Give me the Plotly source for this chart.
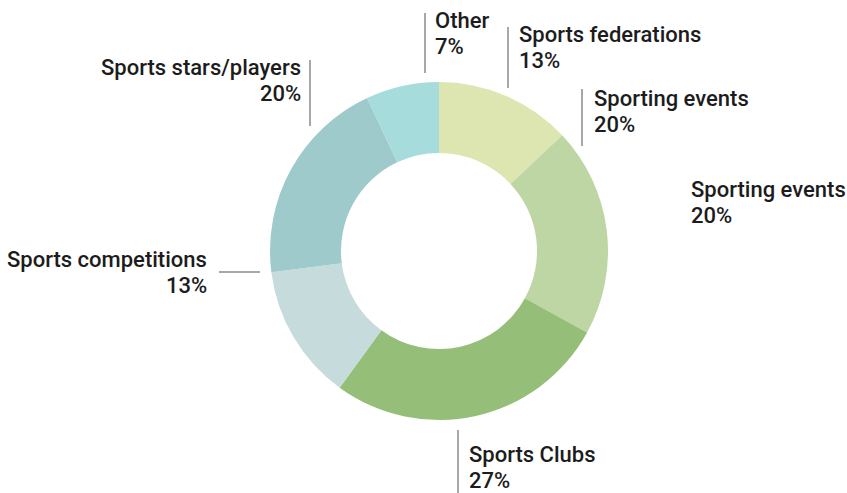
import plotly.graph_objects as go

# Share of sponsorship by property type
categories = ["Sports federations", "Sporting events", "Sports Clubs",
              "Sports competitions", "Sports stars/players", "Other"]
shares = [13, 20, 27, 13, 20, 7]
slice_colors = ["#dde6b1", "#bed6a3", "#95bf78", "#c5dbdc", "#9fcacb", "#a7dcdd"]

W, H = 847, 493
FONT = dict(family="Roboto, Arial, sans-serif", size=22, color="#1c1c1c", weight=500)
LINE_COLOR = "#a8a8a8"

# Callout layout in pixels: text anchor x, first baseline y, alignment,
# and the leader rule (x0, y0, x1, y1)
callouts = {
    "Sports federations": dict(x=517, y=42, align="left", rule=(508, 27, 508, 88)),
    "Sporting events": dict(x=592, y=106, align="left", rule=(582, 89, 582, 146)),
    "Sports Clubs": dict(x=467, y=462, align="left", rule=(458, 430, 458, 493)),
    "Sports competitions": dict(x=209, y=267, align="right", rule=(219, 272, 260, 272)),
    "Sports stars/players": dict(x=303, y=75, align="right", rule=(310, 60, 310, 126)),
    "Other": dict(x=433, y=28, align="left", rule=(425, 13, 425, 73)),
}
# Extra free-standing callout repeating the events share
extra_callout = dict(name="Sporting events", x=689, y=197, align="left")

LINE_GAP = 26
BASELINE_SHIFT = 7.5


def px(x):
    return x / W


def py(y):
    return 1 - y / H


cx, cy, r = 439, 251, 169

fig = go.Figure(go.Pie(
    labels=categories,
    values=shares,
    marker=dict(colors=slice_colors, line=dict(width=0)),
    hole=0.58,
    sort=False,
    direction="clockwise",
    rotation=0,
    textinfo="none",
    hoverinfo="label+percent",
    domain=dict(x=[px(cx - r), px(cx + r)], y=[py(cy + r), py(cy - r)]),
    showlegend=False,
))

annotations = []
shapes = []


def add_callout(name, value, spec, rule=None):
    lines = [name, f"{value}%"]
    for i, line in enumerate(lines):
        annotations.append(dict(
            x=px(spec["x"]), y=py(spec["y"] + i * LINE_GAP - BASELINE_SHIFT),
            xref="paper", yref="paper", text=line, showarrow=False,
            xanchor=spec["align"], yanchor="middle", font=FONT,
        ))
    if rule:
        x0, y0, x1, y1 = rule
        shapes.append(dict(type="line", xref="paper", yref="paper",
                           x0=px(x0), y0=py(y0), x1=px(x1), y1=py(y1),
                           line=dict(color=LINE_COLOR, width=2)))


for name, value in zip(categories, shares):
    spec = callouts[name]
    add_callout(name, value, spec, spec["rule"])

add_callout(extra_callout["name"], shares[categories.index(extra_callout["name"])],
            extra_callout)

fig.update_layout(
    width=W, height=H,
    margin=dict(l=0, r=0, t=0, b=0),
    paper_bgcolor="white", plot_bgcolor="white",
    annotations=annotations, shapes=shapes,
)

fig.write_html("out.html")
